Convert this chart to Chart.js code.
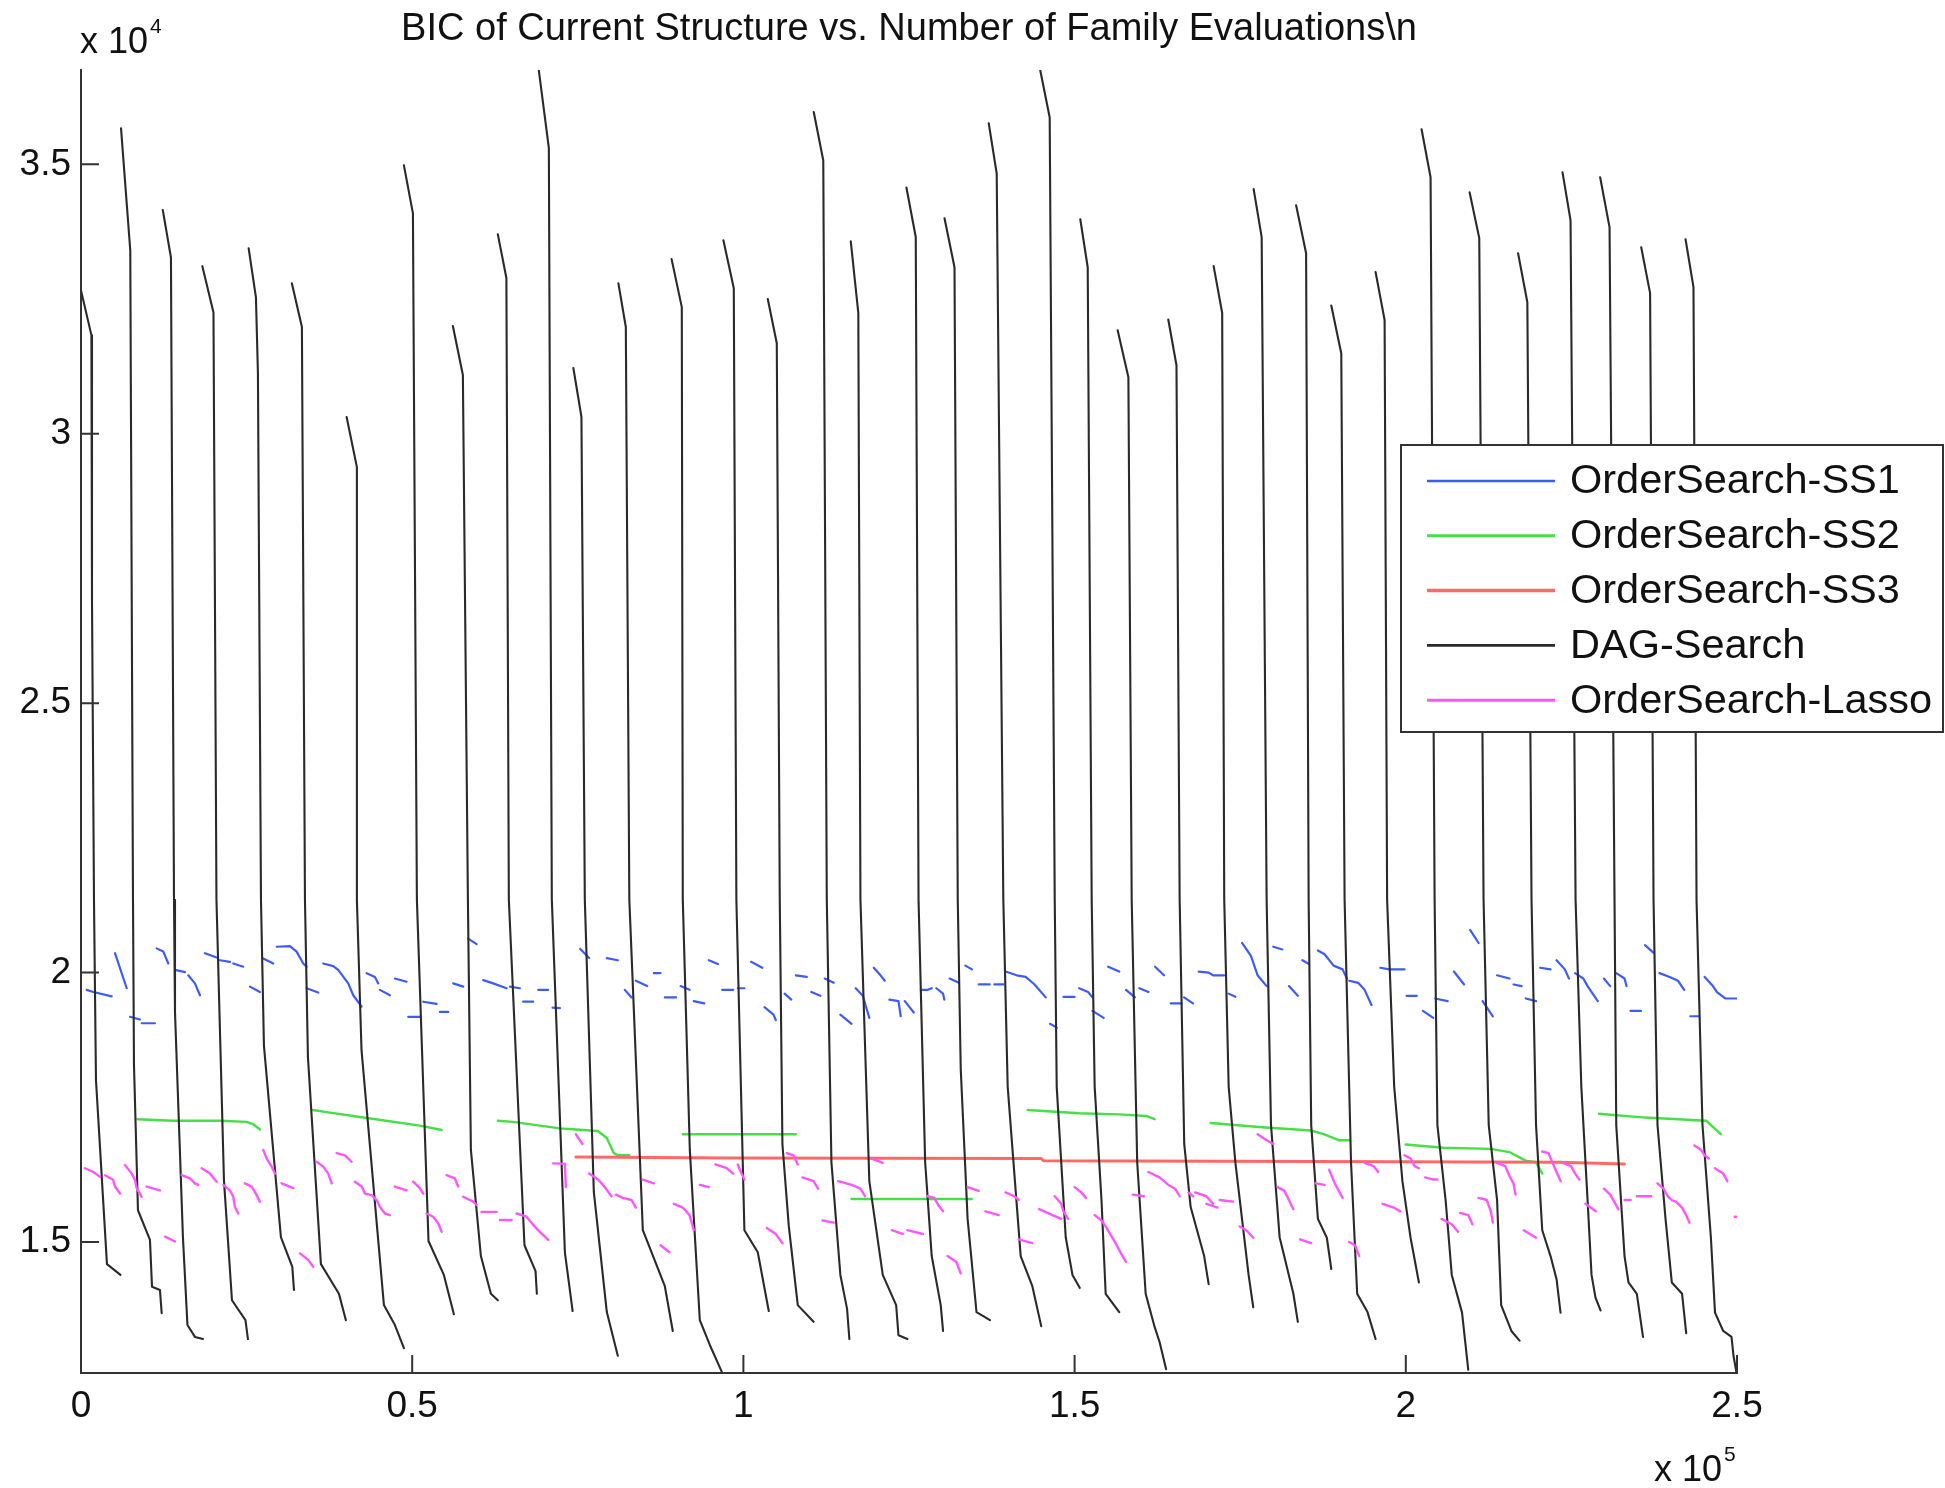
<!DOCTYPE html>
<html>
<head>
<meta charset="utf-8">
<title>BIC vs family evaluations</title>
<script src="https://cdn.jsdelivr.net/npm/chart.js@4.4.1/dist/chart.umd.min.js"></script>
<style>
  html, body { margin: 0; padding: 0; background: #ffffff; }
  canvas { display: block; }
</style>
</head>
<body>
<canvas id="bicChart" width="1945" height="1488"></canvas>
<script>
// series names, in legend order
const seriesNames = ['OrderSearch-SS1', 'OrderSearch-SS2', 'OrderSearch-SS3', 'DAG-Search', 'OrderSearch-Lasso'];
const titleText = 'BIC of Current Structure vs. Number of Family Evaluations\\n';

// tick values (raw units, labels are shown x 10^5 and x 10^4)
const xTicks = [0, 50000, 100000, 150000, 200000, 250000];
const yTicks = [15000, 20000, 25000, 30000, 35000];

// DAG-Search restarts: [evaluations, BIC]
const dagRuns = [
  [[0,32660],[1570,31830],[1660,26910],[1960,21350],[2260,18010],[3920,14590],[5960,14390]],
  [[6040,35670],[7440,33400],[7850,21350],[8000,18280],[8600,15590],[10410,15040],[10720,14170],[11920,14110],[12180,13680]],
  [[12350,34150],[13580,33270],[14040,21350],[14190,19270],[15390,15090],[16070,13460],[17200,13240],[18410,13200]],
  [[18320,33110],[20000,32250],[20450,21350],[21580,16150],[22790,13920],[24830,13550],[25200,13200]],
  [[25310,33440],[26410,32530],[26710,31120],[27170,21350],[27620,18640],[30180,15090],[31900,14540],[32150,14110]],
  [[31840,32790],[33350,31980],[33810,21350],[34260,18430],[36220,14590],[38940,14040],[39990,13550]],
  [[40100,30310],[41650,29380],[41650,21350],[42350,18560],[45730,13830],[47390,13460],[48750,13030]],
  [[48750,34980],[50110,34090],[50710,21350],[52460,15020],[54780,14390],[56290,13660]],
  [[56140,32000],[57650,31090],[58410,21350],[58860,16710],[60370,14740],[61880,14040],[62930,13920]],
  [[62930,33700],[64220,32890],[64590,21350],[66950,14940],[68620,14460],[68820,14040]],
  [[69120,36740],[70630,35300],[71080,21350],[73050,14810],[74220,13720]],
  [[74330,31220],[75550,30310],[76060,21350],[77420,15930],[79380,13700],[81040,12890]],
  [[81130,32790],[82250,31980],[82780,21350],[84820,15220],[88140,14180],[89340,13350]],
  [[89160,33240],[90700,32350],[90850,21350],[91910,16710],[93420,13550],[94930,13090],[96740,12590]],
  [[96980,33590],[98550,32700],[98940,21350],[100150,15220],[102170,14810],[103830,13720]],
  [[103680,32500],[105040,31680],[105490,21350],[105890,16820],[106850,15300],[108210,13830],[110590,13520]],
  [[110620,35970],[112060,35070],[112590,21350],[113290,16480],[114640,14390],[115650,13760],[116000,13200]],
  [[116210,33570],[117350,32240],[117670,21350],[119010,16130],[121040,14390],[123060,13830],[123410,13270],[124750,13200]],
  [[124610,34570],[126020,33650],[126440,21350],[127440,16480],[128430,14740],[129790,13830],[130140,13350]],
  [[130360,34000],[131870,33090],[132360,21350],[132810,18210],[133850,15430],[135190,13700],[137220,13550]],
  [[137040,35760],[138240,34830],[139240,21350],[139900,17880],[141860,14740],[143620,14180],[144960,13440]],
  [[144820,36740],[146240,35870],[147000,21350],[147300,17880],[148660,15090],[149680,14390],[150770,14150]],
  [[150860,33980],[151980,33090],[152580,21350],[153030,17880],[154060,15780],[154690,14040],[156740,13700]],
  [[156500,31920],[158120,31050],[158620,21350],[159450,16480],[160730,14040],[162090,13420],[162840,13140],[163820,12640]],
  [[164140,32120],[165380,31270],[165860,21350],[166550,16820],[167520,15650],[169560,14740],[170240,14220]],
  [[170990,33110],[172280,32240],[172590,21350],[173260,17880],[174270,16480],[176270,14390],[176970,13790]],
  [[177030,34540],[178240,33650],[178990,21350],[179650,17170],[180950,15090],[183030,14040],[183700,13520]],
  [[183440,34240],[184950,33350],[185330,21350],[185720,17170],[186730,15430],[188080,15080],[188750,14500]],
  [[188750,32380],[190260,31490],[190760,21350],[191730,16480],[192660,14040],[194220,13700],[195440,13200]],
  [[195440,33000],[196800,32110],[197180,21350],[198250,17880],[199490,16130],[200720,15080],[201980,14250]],
  [[202380,35650],[203740,34760],[204350,21350],[204770,17170],[206010,15780],[206940,14390],[208490,13690],[209430,12630]],
  [[209630,34480],[211090,33630],[211740,21350],[212520,17170],[213780,15780],[214400,13830],[215940,13350],[217170,13170]],
  [[216950,33350],[218350,32440],[218980,21350],[219660,17170],[220600,15220],[221850,14740],[222760,14310],[223360,13690]],
  [[223660,34850],[224870,33960],[225630,21350],[226500,17880],[227440,15780],[228040,14390],[228640,13970],[229400,13730]],
  [[229340,34760],[230760,33830],[231510,21350],[231770,17170],[233020,14740],[233620,14250],[234880,14040],[235810,13240]],
  [[235540,33460],[236880,32610],[237400,21350],[238000,17170],[239210,15430],[240160,14250],[241710,14040],[242330,13310]],
  [[242230,33610],[243430,32720],[243890,21350],[244790,17170],[246060,15080],[246680,13690],[247920,13350],[249170,13240],[249470,12890],[249920,12580]]
];

// OrderSearch-SS1: visible pieces of the blue trace
const ss1Strokes = [
  [[860,19680],[1860,19640],[4630,19560]], [[5130,20360],[6900,19710]],
  [[7400,19180],[8900,19130]], [[9160,19060],[11170,19060]],
  [[11420,20450],[12420,20390],[13180,20170]], [[14190,20050],[15700,20010]],
  [[16190,19950],[17200,19800],[17960,19580]], [[18710,20360],[20480,20280]],
  [[20980,20230],[22490,20200]], [[22990,20170],[24490,20110]],
  [[25510,19740],[27010,19640]], [[27510,20260],[29020,20170]],
  [[29540,20480],[31540,20490],[32550,20390],[33550,20170],[34060,20110]],
  [[34060,19710],[35810,19630]],
  [[36570,20170],[38080,20120],[38830,20050],[40340,19800],[41100,19580],[42360,19370]],
  [[43120,19990],[44370,19920],[44870,19800]], [[45130,19680],[46630,19580]],
  [[47390,19890],[49150,19830]], [[49400,19180],[51160,19180]],
  [[51660,19460],[53680,19420]], [[54180,19270],[55430,19270]],
  [[56190,19800],[57700,19740]], [[58450,20630],[59720,20530]],
  [[60720,19860],[62220,19800],[64250,19710]], [[64750,19740],[66250,19710]],
  [[66750,19460],[68260,19460]], [[69020,19680],[70530,19680]],
  [[71190,19350],[72290,19340]], [[75370,20440],[76710,20270]],
  [[79380,20270],[81040,20230]], [[82100,19680],[83110,19540]],
  [[83760,19850],[85470,19750]], [[86480,19990],[87490,19990]],
  [[88140,19540],[89840,19540]], [[90520,19750],[91870,19680]],
  [[92510,19470],[94100,19430]], [[94780,20230],[96140,20160]],
  [[96790,19680],[98480,19680]], [[99150,19710],[100150,19710]],
  [[101160,20200],[102850,20090]], [[103180,19360],[104540,19220],[104890,19120]],
  [[106220,19610],[107230,19500]], [[107910,19950],[109570,19920]],
  [[110260,19640],[111610,19570]], [[112280,19890],[113640,19810]],
  [[114640,19220],[116330,19050]], [[116960,19710],[118020,19570],[119010,19160]],
  [[119680,20090],[120700,19950],[121340,19850]], [[122050,19500],[123410,19470],[123750,19190]],
  [[124360,19470],[125080,19360],[125720,19260]], [[126770,19680],[127780,19680],[128430,19710]],
  [[129130,19710],[130140,19610],[130330,19500]], [[131150,19890],[132510,19810]],
  [[133500,20130],[134510,20060]], [[135530,19780],[137190,19780]],
  [[137880,19780],[139240,19780]],
  [[139570,20020],[141260,19950],[142620,19920],[143950,19780],[145640,19540]],
  [[146300,19050],[147300,18980]], [[148320,19550],[150010,19550]],
  [[150690,19710],[152040,19640],[152700,19540]], [[152700,19290],[154390,19160]],
  [[155070,20110],[156740,20020]], [[157760,19680],[159110,19540]],
  [[159780,19710],[161140,19640]], [[162150,20110],[163490,19950]],
  [[164500,19430],[166160,19430]], [[166530,19540],[167870,19430]],
  [[168730,20020],[170240,20000],[170900,19950],[172590,19950]],
  [[173260,19610],[174270,19550]],
  [[175280,20550],[176620,20310],[177630,19950],[178990,19750]],
  [[180000,20480],[181350,20430]], [[182360,19750],[183700,19570]],
  [[184380,20230],[185390,20160]],
  [[186730,20410],[187740,20340],[189100,20130],[190460,20060],[191110,19890]],
  [[191460,19850],[192800,19810],[193780,19680],[194820,19400]],
  [[196160,20090],[197510,20060],[199800,20060]], [[200120,19570],[201660,19570]],
  [[202590,19290],[204150,19160]], [[204450,19520],[206310,19470]],
  [[207260,20020],[208800,19780]], [[209730,20790],[210990,20550]],
  [[211590,19470],[213140,19190]], [[213780,19950],[215640,19890]],
  [[216270,19780],[217470,19750]], [[218110,19520],[219660,19470]],
  [[220280,20090],[221850,20060]], [[222760,20230],[224010,20060],[224630,19890]],
  [[225560,19990],[226800,19890],[227440,19750],[228980,19470]],
  [[229910,19890],[230850,19750]], [[231770,19990],[233020,19890],[233320,19750]],
  [[233930,19290],[235500,19290]], [[236110,20510],[237370,20370]],
  [[238300,19990],[239840,19920],[241080,19850],[242020,19680]],
  [[242950,19190],[244190,19190]],
  [[245120,19920],[246360,19750],[246980,19640],[248220,19520],[249910,19520]]
];

// OrderSearch-SS2 (green)
const ss2Strokes = [
  [[8530,17280],[13880,17250],[20980,17250],[25010,17230],[25960,17190],[27010,17090]],
  [[35010,17450],[37080,17410],[42110,17320],[51160,17160],[54440,17080]],
  [[62930,17250],[65200,17230],[72290,17110],[74710,17090],[78030,17060],[79380,16930],[80440,16650],[81040,16610],[82780,16610]],
  [[90850,17000],[107910,17000]],
  [[116330,15800],[134470,15800]],
  [[142920,17450],[150690,17390],[156740,17370],[160790,17340],[162090,17280]],
  [[170540,17210],[178310,17130],[185720,17070],[187700,17000],[189860,16890],[191430,16890]],
  [[199970,16810],[205700,16750],[212800,16730],[215640,16670],[218080,16510],[219660,16480],[220600,16270]],
  [[229170,17380],[236110,17310],[245400,17250],[246060,17170],[247600,17000]]
];

// OrderSearch-SS3 (red)
const ss3Strokes = [
  [[74710,16580],[98100,16560],[144960,16550],[145300,16510],[199060,16490],[223060,16480],[233020,16450]]
];

// OrderSearch-Lasso (magenta)
const lassoStrokes = [
  [[600,16370],[1860,16300],[2870,16210]], [[3620,16240],[4870,16150],[5130,16030],[5890,15900]],
  [[6640,16430],[7650,16270],[8150,16150],[8410,16000],[9160,15840]],
  [[9920,16030],[11920,15960]], [[12680,15100],[14190,15010]],
  [[15200,16240],[16450,16180],[17200,16090],[17700,16060]],
  [[18220,16370],[19470,16270],[20480,16120]],
  [[21480,16060],[22490,15960],[22990,15840],[23240,15650],[23740,15530]],
  [[24750,16090],[25760,16030],[26520,15870],[27010,15750]],
  [[27510,16710],[28030,16550],[28780,16400],[29280,16270]],
  [[30290,16090],[32040,16000]], [[33050,14790],[34300,14670],[35060,14540]],
  [[35570,16490],[36570,16400],[37320,16270],[37840,16090]],
  [[38590,16650],[39840,16610],[40850,16490]],
  [[41350,16120],[42360,16030],[42860,15900],[43870,15870],[44630,15780],[45130,15650],[45880,15530],[46630,15500]],
  [[47390,16030],[49150,15960]], [[50150,16120],[51160,16000],[51660,15900]],
  [[52170,15530],[53170,15470],[53920,15350],[54440,15190]],
  [[55190,16240],[56440,16180],[56940,16030]], [[57700,15840],[59210,15750],[59720,15690]],
  [[60470,15560],[62740,15560]], [[63240,15410],[65000,15410]],
  [[65760,15530],[67260,15470],[68260,15320],[69270,15190],[70530,15040]],
  [[71280,16460],[73050,16450],[73200,16020]], [[74710,17000],[75700,16820]],
  [[76710,16270],[78060,16160],[79080,16020],[80080,15850]],
  [[80740,15880],[81770,15820],[83110,15780],[83760,15640]],
  [[84800,16160],[86480,16090]], [[87490,14940],[88830,14810]],
  [[89500,15710],[90850,15640],[91870,15500],[92510,15220]],
  [[93420,16060],[94780,16020]], [[95770,16440],[97460,16370],[98480,16270]],
  [[99150,16440],[99460,16340],[100150,16160]],
  [[103530,15260],[104890,15150],[105890,14980]], [[106550,16650],[107570,16610],[108210,16440]],
  [[108920,16200],[110590,16130],[111270,15990]], [[111950,15400],[113640,15360]],
  [[114310,16130],[116330,16060],[117670,15990],[118350,15850]],
  [[119360,16550],[121040,16470]], [[122400,15220],[124060,15150]],
  [[124750,15220],[127100,15150]], [[127780,15850],[128800,15820],[129460,15680],[130140,15570]],
  [[130820,14740],[132160,14630],[132810,14420]], [[133850,16020],[135530,15950]],
  [[136540,15570],[138540,15500]], [[139570,15920],[140910,15850],[141560,15780]],
  [[141560,15050],[143620,14980]], [[144630,15610],[146650,15500],[147990,15430]],
  [[147000,15850],[147990,15710],[148320,15570],[149000,15430]],
  [[150010,16020],[151030,15920],[151710,15820]],
  [[153030,15500],[154060,15400],[154690,15290],[156050,15010],[157090,14770],[157760,14630]],
  [[158770,15880],[160460,15850]],
  [[161140,16300],[162810,16200],[164160,16060],[165170,15990],[165860,15850]],
  [[167190,15920],[167870,15850]], [[168200,15920],[169890,15850],[170900,15710]],
  [[169890,15710],[171580,15640]], [[171900,15780],[173930,15750]],
  [[174920,15290],[175930,15220],[176970,15080]], [[177630,17000],[178990,16890],[180000,16820]],
  [[180650,16020],[181680,15950],[182360,15780],[183030,15610]],
  [[184030,15050],[185720,14980]], [[186390,16090],[187740,16060]],
  [[188420,16340],[189400,16060],[190450,15820]], [[191430,15000],[192350,14940],[192970,14740]],
  [[193780,16470],[195140,16410],[195830,16300]], [[196500,15710],[198160,15640],[199180,15570]],
  [[199820,16610],[200720,16550],[201330,16410],[201980,16370]],
  [[202910,16200],[204150,16160],[204770,16160]], [[205400,15430],[206940,15330],[207880,15190]],
  [[208180,15540],[209430,15500],[210050,15330]],
  [[210990,15820],[212220,15780],[212840,15570],[213140,15360]],
  [[213780,16470],[215010,16410],[215640,16230],[216250,16090],[216570,15880]],
  [[217810,15220],[219660,15080]],
  [[220600,16680],[221540,16650],[222150,16470],[222760,16300],[223390,16130]],
  [[223710,16470],[224940,16410],[225560,16270],[226190,16160]],
  [[227120,15710],[228670,15570]], [[229910,15990],[230850,15880],[231460,15750],[232080,15610]],
  [[233020,15780],[233940,15780]], [[234880,15850],[237050,15850]],
  [[237990,16090],[238910,15990],[239540,15850],[240160,15780],[240780,15750],[241710,15640],[242330,15500],[242830,15360]],
  [[243570,16790],[244490,16720],[245120,16610],[245740,16550]],
  [[246680,16370],[247920,16270],[248540,16130]], [[249650,15470],[249910,15470]]
];

const fontFamily = "'Liberation Sans', Arial, Helvetica, sans-serif";

// strokes -> points, with a null point between strokes so the line breaks
function toPoints(strokes) {
  const pts = [];
  strokes.forEach((s) => {
    s.forEach((p) => pts.push({ x: p[0], y: p[1] }));
    pts.push({ x: s[s.length - 1][0], y: null });
  });
  return pts;
}

// inward ticks, exponent labels and the boxed legend, MATLAB style
const matlabAxes = {
  id: 'matlabAxes',
  afterDatasetsDraw(chart) {
    const { ctx, chartArea, scales } = chart;
    ctx.save();
    ctx.strokeStyle = '#333333';
    ctx.lineWidth = 2;
    ctx.beginPath();
    scales.x.ticks.forEach((t) => {
      const px = scales.x.getPixelForValue(t.value);
      ctx.moveTo(px, chartArea.bottom);
      ctx.lineTo(px, chartArea.bottom - 18);
    });
    scales.y.ticks.forEach((t) => {
      const py = scales.y.getPixelForValue(t.value);
      ctx.moveTo(chartArea.left, py);
      ctx.lineTo(chartArea.left + 18, py);
    });
    ctx.stroke();
    ctx.restore();
  },
  afterDraw(chart) {
    const { ctx, chartArea } = chart;
    ctx.save();
    ctx.fillStyle = '#111111';
    ctx.textBaseline = 'alphabetic';
    ctx.textAlign = 'left';

    // x 10^4 above the y axis
    ctx.font = '36px ' + fontFamily;
    let w = ctx.measureText('x 10').width;
    ctx.fillText('x 10', chartArea.left - 1, 53);
    ctx.font = '21px ' + fontFamily;
    ctx.fillText('4', chartArea.left + w + 1, 33);

    // x 10^5 under the x axis
    ctx.font = '36px ' + fontFamily;
    w = ctx.measureText('x 10').width;
    ctx.fillText('x 10', 1654, 1481);
    ctx.font = '21px ' + fontFamily;
    ctx.fillText('5', 1654 + w + 2, 1461);

    // legend box
    const box = { left: 1401, top: 445, right: 1943, bottom: 732 };
    ctx.fillStyle = '#ffffff';
    ctx.fillRect(box.left, box.top, box.right - box.left, box.bottom - box.top);
    ctx.strokeStyle = '#333333';
    ctx.lineWidth = 2;
    ctx.strokeRect(box.left, box.top, box.right - box.left, box.bottom - box.top);

    ctx.font = '41.5px ' + fontFamily;
    ctx.textBaseline = 'middle';
    chart.data.datasets.forEach((ds, i) => {
      const y = 481 + i * 54.8;
      ctx.strokeStyle = ds.borderColor;
      ctx.lineWidth = ds.borderWidth + 0.5;
      ctx.beginPath();
      ctx.moveTo(1427, y);
      ctx.lineTo(1555, y);
      ctx.stroke();
      ctx.fillStyle = '#111111';
      ctx.fillText(ds.label, 1570, y + 1);
    });
    ctx.restore();
  }
};

new Chart(document.getElementById('bicChart'), {
  type: 'line',
  data: {
    datasets: [
      { label: seriesNames[0], data: toPoints(ss1Strokes), borderColor: '#3d5cf5', borderWidth: 2.2, order: 5 },
      { label: seriesNames[1], data: toPoints(ss2Strokes), borderColor: '#44e044', borderWidth: 2.4, order: 4 },
      { label: seriesNames[2], data: toPoints(ss3Strokes), borderColor: '#ff6868', borderWidth: 3, order: 3 },
      { label: seriesNames[3], data: toPoints(dagRuns), borderColor: '#2a2a2a', borderWidth: 2.1, order: 2 },
      { label: seriesNames[4], data: toPoints(lassoStrokes), borderColor: '#ff55ff', borderWidth: 2.4, order: 1 }
    ]
  },
  options: {
    responsive: false,
    animation: false,
    devicePixelRatio: 1,
    spanGaps: false,
    elements: {
      point: { radius: 0, hoverRadius: 0 },
      line: { tension: 0, fill: false, borderCapStyle: 'round', borderJoinStyle: 'round' }
    },
    layout: { padding: { left: 0, right: 208, top: 0, bottom: 0 } },
    plugins: {
      legend: { display: false },
      tooltip: { enabled: false },
      title: {
        display: true,
        text: titleText,
        fullSize: false,
        color: '#111111',
        font: { family: fontFamily, size: 38, weight: 'normal', lineHeight: 1.2 },
        padding: { top: 7, bottom: 17.4 }
      }
    },
    scales: {
      x: {
        type: 'linear',
        min: 0,
        max: 250000,
        afterBuildTicks: (scale) => { scale.ticks = xTicks.map((v) => ({ value: v })); },
        afterFit: (scale) => { scale.height = 115; },
        grid: { display: false, drawTicks: false },
        border: { display: true, color: '#333333', width: 2 },
        ticks: {
          padding: 12,
          color: '#111111',
          maxRotation: 0,
          autoSkip: false,
          font: { family: fontFamily, size: 37 },
          callback: (v) => String(v / 1e5)
        }
      },
      y: {
        type: 'linear',
        min: 12570,
        max: 36750,
        afterBuildTicks: (scale) => { scale.ticks = yTicks.map((v) => ({ value: v })); },
        afterFit: (scale) => { scale.width = 81; },
        grid: { display: false, drawTicks: false },
        border: { display: true, color: '#333333', width: 2 },
        ticks: {
          padding: 10,
          color: '#111111',
          autoSkip: false,
          font: { family: fontFamily, size: 37 },
          callback: (v) => String(v / 1e4)
        }
      }
    }
  },
  plugins: [matlabAxes]
});
</script>
</body>
</html>
